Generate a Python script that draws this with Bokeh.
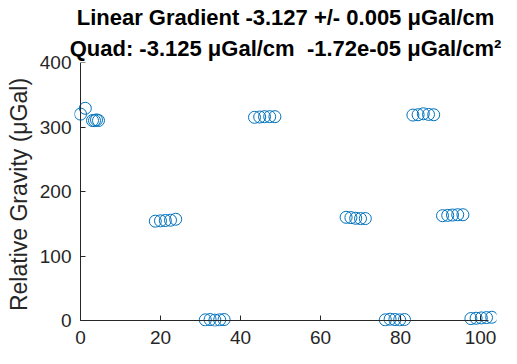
from bokeh.plotting import figure
from bokeh.models import Range1d, FixedTicker, Title, LinearAxis
from bokeh.embed import file_html
from bokeh.resources import INLINE

# ---- data ----
position_cm = [0.0, 1.2, 3.0, 3.5, 4.0, 4.5,
               18.7, 20.0, 21.2, 22.5, 23.8,
               31.2, 32.4, 33.6, 34.8, 35.9,
               43.5, 44.8, 46.0, 47.3, 48.6,
               66.4, 67.6, 68.8, 70.0, 71.2,
               76.2, 77.4, 78.6, 79.8, 81.0,
               83.1, 84.4, 85.7, 87.0, 88.3,
               90.5, 91.8, 93.0, 94.3, 95.6,
               97.6, 98.9, 100.2, 101.5, 102.8]
rel_gravity = [320, 329, 310, 310, 311, 310,
               154, 154.5, 155, 155.5, 157,
               1, 1.5, 0.5, 1, 1.5,
               315, 315.5, 316, 316, 316,
               160, 159.5, 158.5, 158, 158,
               1, 2, 1.5, 1, 1.5,
               318.5, 319, 320.5, 319.5, 319,
               162.5, 163, 163.5, 164, 164,
               3, 3.5, 4, 4.5, 5]
x_ticks = [0, 20, 40, 60, 80, 100]
y_ticks = [0, 100, 200, 300, 400]
x_limits = (0, 102)
y_limits = (0, 400)
title_line1 = "Linear Gradient -3.127 +/- 0.005 \u03bcGal/cm"
title_line2 = "Quad: -3.125 \u03bcGal/cm \u00a0-1.72e-05 \u03bcGal/cm\u00b2"
y_label = "Relative Gravity (\u03bcGal)"

AX = "#262626"
FONT = "Liberation Sans"

p = figure(width=501, height=352, output_backend="svg", toolbar_location=None,
           x_range=Range1d(-1.5, 104), y_range=Range1d(-9.3, 400),
           min_border_left=74, min_border_right=5, min_border_top=62,
           min_border_bottom=26, title=title_line1)
p.title.align = "center"
p.title.text_font = FONT
p.title.text_font_size = "22px"
p.title.text_font_style = "bold"
p.title.text_color = "black"
p.title.standoff = 4
p.add_layout(Title(text=title_line2, align="center", text_font=FONT,
                   text_font_size="22px", text_font_style="bold",
                   text_color="black", standoff=4), "above")

p.scatter(position_cm, rel_gravity, marker="circle", size=12,
          fill_color=None, line_color="#0072BD", line_width=1)

p.grid.visible = False
p.outline_line_color = None
p.background_fill_color = "white"

# label-only axes at the frame edges
for ax, ticks, sd in ((p.xaxis[0], x_ticks, 4), (p.yaxis[0], y_ticks, 3)):
    ax.ticker = FixedTicker(ticks=ticks)
    ax.axis_line_color = None
    ax.major_tick_line_color = None
    ax.minor_tick_line_color = None
    ax.major_tick_in = 0
    ax.major_tick_out = 0
    ax.major_label_text_font = FONT
    ax.major_label_text_font_size = "19px"
    ax.major_label_text_color = AX
    ax.major_label_standoff = sd

p.yaxis.axis_label = y_label
p.yaxis.axis_label_text_font = FONT
p.yaxis.axis_label_text_font_size = "23px"
p.yaxis.axis_label_text_font_style = "normal"
p.yaxis.axis_label_text_color = AX
p.yaxis.axis_label_standoff = 5

# line-and-tick axes placed at the data origin (no labels drawn)
for side, ticks, lim in (("below", x_ticks, x_limits), ("left", y_ticks, y_limits)):
    ax = LinearAxis(ticker=FixedTicker(ticks=ticks), bounds=lim, fixed_location=0)
    ax.axis_line_color = AX
    ax.axis_line_width = 1
    ax.major_tick_line_color = AX
    ax.major_tick_in = 5
    ax.major_tick_out = 0
    ax.minor_tick_line_color = None
    ax.major_label_text_color = None
    ax.major_label_text_font_size = "10px"
    ax.major_label_standoff = 0
    p.add_layout(ax, side)

open("out.html", "w").write(file_html(p, INLINE))
